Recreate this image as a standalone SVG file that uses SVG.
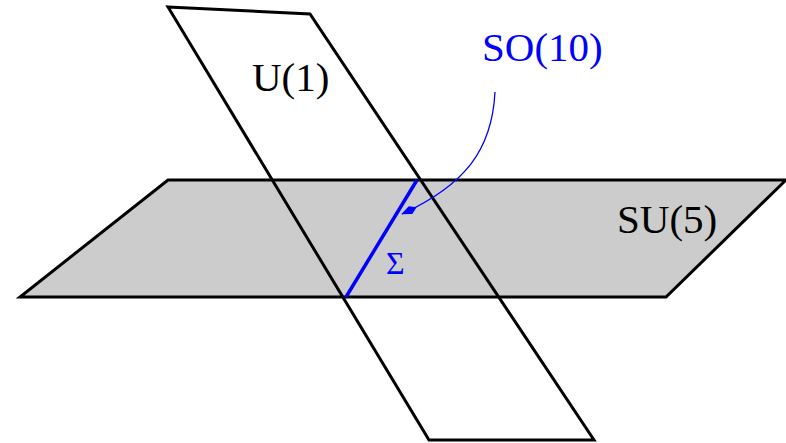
<svg xmlns="http://www.w3.org/2000/svg" width="786" height="443" viewBox="0 0 786 443">
<style>
.plane{stroke:#000;stroke-width:3;stroke-linejoin:miter}
.lbl{font-family:"Liberation Serif","DejaVu Serif",serif;font-size:41px}
</style>
<defs>
<marker id="ah" viewBox="0 0 20 10" refX="19" refY="5" markerWidth="17" markerHeight="8.5" markerUnits="userSpaceOnUse" orient="auto">
<path d="M0,5 L8,0 L20,5 L8,10 Z" fill="#0000ff"/>
</marker>
</defs>
<rect width="786" height="443" fill="#fff"/>
<g id="su5">
<polygon class="plane" points="20,297 666,297 786,180 168,180" fill="#cccccc"/>
</g>
<g id="u1">
<polygon class="plane" points="168,7 310,14 594,440 429,440" fill="none"/>
<text class="lbl" x="252" y="91">U(1)</text>
</g>
<g id="sigma">
<line x1="346" y1="297" x2="417" y2="180" stroke="#0000ff" stroke-width="3.5"/>
<text x="386" y="274" font-family="Liberation Serif,serif" font-size="32" fill="#0000ff">Σ</text>
</g>
<text class="lbl" x="617" y="233">SU(5)</text>
<g id="so10">
<text class="lbl" x="482" y="61" fill="#0000ff">SO(10)</text>
</g>
<g id="connectors">
<path d="M495,92 C492,150 465,185 402,214" fill="none" stroke="#0000ff" stroke-width="1.3" marker-end="url(#ah)"/>
</g>
</svg>
